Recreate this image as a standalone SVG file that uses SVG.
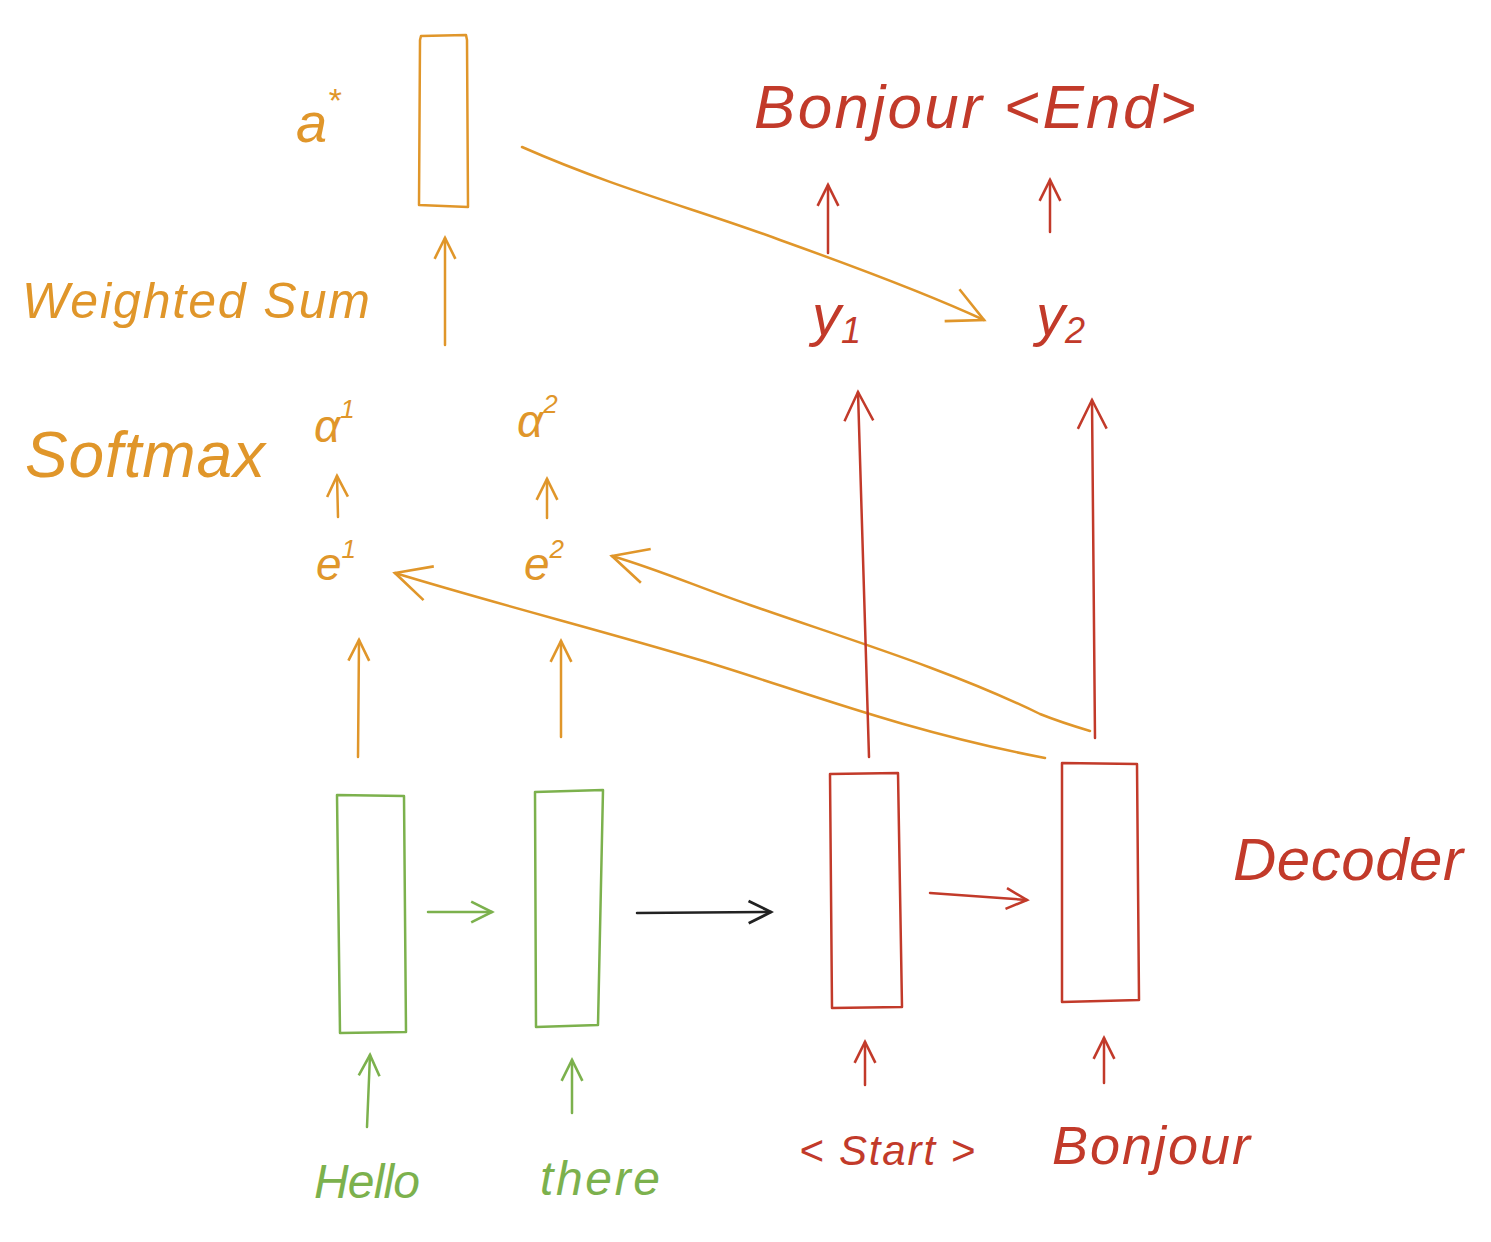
<svg xmlns="http://www.w3.org/2000/svg" width="1491" height="1242" viewBox="0 0 1491 1242">
<defs>
<style>
.o{stroke:#E0962A;fill:none;stroke-width:2.5;stroke-linecap:round;stroke-linejoin:round}
.r{stroke:#C23A2A;fill:none;stroke-width:2.5;stroke-linecap:round;stroke-linejoin:round}
.g{stroke:#7CB14D;fill:none;stroke-width:2.5;stroke-linecap:round;stroke-linejoin:round}
.k{stroke:#222;fill:none;stroke-width:2.5;stroke-linecap:round}
.to{fill:#E0962A;font-family:"Liberation Sans",sans-serif;font-style:italic}
.tr{fill:#C23A2A;font-family:"Liberation Sans",sans-serif;font-style:italic}
.tg{fill:#7CB14D;font-family:"Liberation Sans",sans-serif;font-style:italic}
</style>
<marker id="mo" viewBox="0 0 20 20" refX="18" refY="10" markerWidth="26" markerHeight="26" markerUnits="userSpaceOnUse" orient="auto"><path d="M2,2 L18,10 L2,18" fill="none" stroke="#E0962A" stroke-width="2"/></marker>
<marker id="mr" viewBox="0 0 20 20" refX="18" refY="10" markerWidth="26" markerHeight="26" markerUnits="userSpaceOnUse" orient="auto"><path d="M2,2 L18,10 L2,18" fill="none" stroke="#C23A2A" stroke-width="2"/></marker>
<marker id="mg" viewBox="0 0 20 20" refX="18" refY="10" markerWidth="26" markerHeight="26" markerUnits="userSpaceOnUse" orient="auto"><path d="M2,2 L18,10 L2,18" fill="none" stroke="#7CB14D" stroke-width="2"/></marker>
<marker id="mk" viewBox="0 0 20 20" refX="18" refY="10" markerWidth="28" markerHeight="28" markerUnits="userSpaceOnUse" orient="auto"><path d="M2,2 L18,10 L2,18" fill="none" stroke="#222" stroke-width="2"/></marker>
<marker id="mol" viewBox="0 0 20 20" refX="18" refY="10" markerWidth="44" markerHeight="44" markerUnits="userSpaceOnUse" orient="auto"><path d="M2,2 L18,10 L2,18" fill="none" stroke="#E0962A" stroke-width="1.2"/></marker>
<marker id="mrl" viewBox="0 0 20 20" refX="18" refY="10" markerWidth="36" markerHeight="36" markerUnits="userSpaceOnUse" orient="auto"><path d="M2,2 L18,10 L2,18" fill="none" stroke="#C23A2A" stroke-width="1.4"/></marker>
</defs>

<g id="attention-vector">
<text class="to" x="296" y="142" font-size="56">a<tspan font-size="34" dy="-30">*</tspan></text>
<path class="o" d="M421,36 L466,35 L467,40 L468,207 L419,205 L420,40 Z"/>
</g>
<g id="weighted-sum"><text class="to" x="22" y="318" font-size="50" textLength="348" lengthAdjust="spacing">Weighted Sum</text></g>
<g id="softmax"><text class="to" x="25" y="477" font-size="64" textLength="240" lengthAdjust="spacing">Softmax</text></g>
<g id="alpha1"><text class="to" x="314" y="442" font-size="46">α<tspan font-size="26" dy="-24">1</tspan></text></g>
<g id="alpha2"><text class="to" x="517" y="437" font-size="46">α<tspan font-size="26" dy="-24">2</tspan></text></g>
<g id="e1"><text class="to" x="316" y="580" font-size="46">e<tspan font-size="26" dy="-22">1</tspan></text></g>
<g id="e2"><text class="to" x="524" y="580" font-size="46">e<tspan font-size="26" dy="-22">2</tspan></text></g>

<g id="enc1"><path class="g" d="M337,795 L404,796 L406,1032 L340,1033 Z"/></g>
<g id="enc2"><path class="g" d="M535,792 L603,790 L598,1025 L536,1027 Z"/></g>
<g id="dec1"><path class="r" d="M830,774 L898,773 L902,1007 L832,1008 Z"/></g>
<g id="dec2"><path class="r" d="M1062,763 L1137,764 L1139,1000 L1062,1002 Z"/></g>
<g id="decoder-label"><text class="tr" x="1233" y="880" font-size="60" textLength="230" lengthAdjust="spacing">Decoder</text></g>
<g id="y1"><text class="tr" x="812" y="335" font-size="58">y<tspan font-size="36" dy="8">1</tspan></text></g>
<g id="y2"><text class="tr" x="1036" y="335" font-size="58">y<tspan font-size="36" dy="8">2</tspan></text></g>
<g id="out-words"><text class="tr" x="754" y="128" font-size="62" textLength="442" lengthAdjust="spacing">Bonjour &lt;End&gt;</text></g>
<g id="hello"><text class="tg" x="314" y="1198" font-size="48" textLength="106" lengthAdjust="spacing">Hello</text></g>
<g id="there"><text class="tg" x="540" y="1195" font-size="48" textLength="120" lengthAdjust="spacing">there</text></g>
<g id="start"><text class="tr" x="799" y="1165" font-size="42" textLength="176" lengthAdjust="spacing">&lt; Start &gt;</text></g>
<g id="bonjour-in"><text class="tr" x="1052" y="1164" font-size="54" textLength="198" lengthAdjust="spacing">Bonjour</text></g>

<g id="connectors">
<path class="o" d="M522,147 C620,190 700,210 780,240 C850,265 930,295 984,320" marker-end="url(#mol)"/>
<path class="o" d="M445,345 L445,238" marker-end="url(#mo)"/>
<path class="o" d="M338,517 L337,476" marker-end="url(#mo)"/>
<path class="o" d="M547,518 L547,479" marker-end="url(#mo)"/>
<path class="o" d="M358,757 L359,640" marker-end="url(#mo)"/>
<path class="o" d="M561,737 L561,641" marker-end="url(#mo)"/>
<path class="o" d="M1045,758 C900,730 800,690 700,660 C600,630 500,605 395,573" marker-end="url(#mol)"/>
<path class="o" d="M1090,731 C1060,722 1050,718 1040,714 C950,670 850,640 750,605 C700,588 660,570 612,556" marker-end="url(#mol)"/>
<path class="g" d="M428,912 L492,912" marker-end="url(#mg)"/>
<path class="g" d="M367,1127 L370,1055" marker-end="url(#mg)"/>
<path class="g" d="M572,1113 L572,1060" marker-end="url(#mg)"/>
<path class="k" d="M637,913 L771,912" marker-end="url(#mk)"/>
<path class="r" d="M930,893 L1027,900" marker-end="url(#mr)"/>
<path class="r" d="M865,1085 L865,1042" marker-end="url(#mr)"/>
<path class="r" d="M1104,1083 L1104,1038" marker-end="url(#mr)"/>
<path class="r" d="M869,757 L858,392" marker-end="url(#mrl)"/>
<path class="r" d="M1095,738 L1092,400" marker-end="url(#mrl)"/>
<path class="r" d="M828,253 L828,185" marker-end="url(#mr)"/>
<path class="r" d="M1050,232 L1050,180" marker-end="url(#mr)"/>
</g>
</svg>
